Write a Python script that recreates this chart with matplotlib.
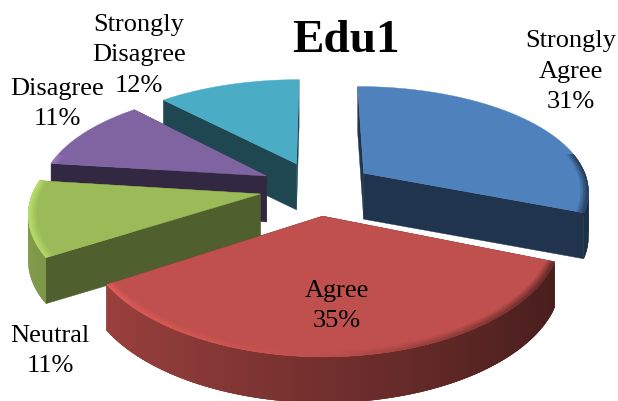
import numpy as np
import matplotlib
matplotlib.use("Agg")
import matplotlib.pyplot as plt
from matplotlib.collections import PolyCollection

# Survey responses for item Edu1, in percent
categories = ["Strongly\nAgree", "Agree", "Neutral", "Disagree", "Strongly\nDisagree"]
shares = [31, 35, 11, 11, 12]
colors = ["#4F81BD", "#C0504D", "#9BBB59", "#8064A2", "#4BACC6"]
radial_shade = [0.41, 0.50, 0.51, 0.40, 0.41]
draw_order = [4, 3, 0, 2, 1]
label_xy = [(571, 72), (337, 306), (50, 351), (57, 104), (139, 55)]

# Projection of the tilted, exploded pie onto the canvas
CX, CY = 317.0, 189.0
RX, RY = 226.0, 106.0
PERSP_X, PERSP_Y = 0.15, 0.17
EXPLODE = 0.255
DEPTH = 46.0


def project(x, y):
    """x to the right, y towards the viewer."""
    return np.column_stack([CX + RX * x / (1.0 - PERSP_X * y),
                            CY + RY * y / (1.0 - PERSP_Y * y)])


def shaded(c, f):
    return tuple(np.clip(np.array(matplotlib.colors.to_rgb(c)) * f, 0, 1))


def rim(a0, a1, mid, radius, n=160):
    t = np.linspace(a0, a1, n)
    ox, oy = EXPLODE * np.sin(mid), -EXPLODE * np.cos(mid)
    return t, ox + radius * np.sin(t), oy - radius * np.cos(t), ox, oy


fig = plt.figure(figsize=(6.18, 4.02), dpi=100)
ax = fig.add_axes([0, 0, 1, 1])
ax.set_xlim(0, 618)
ax.set_ylim(402, 0)
ax.axis("off")

edges = np.concatenate([[0], np.cumsum(shares)]) / np.sum(shares) * 2 * np.pi

for layer, i in enumerate(draw_order):
    a0, a1 = edges[i], edges[i + 1]
    mid = (a0 + a1) / 2
    col = colors[i]
    t, xs, ys, ox, oy = rim(a0, a1, mid, 1.0)
    top = project(xs, ys)
    apex = project(np.array([ox]), np.array([oy]))
    bottom = top + [0, DEPTH]
    n = len(t)

    # Flat cut faces
    for end in (0, n - 1):
        ax.fill([apex[0, 0], top[end, 0], bottom[end, 0], apex[0, 0]],
                [apex[0, 1], top[end, 1], bottom[end, 1], apex[0, 1] + DEPTH],
                color=shaded(col, radial_shade[i]), lw=0.3, zorder=1 + layer * 10)

    # Curved outer wall, lit from the left; strips overlap so no seams show
    polys, fcs = [], []
    for k in range(n - 1):
        nx, ny = np.sin(t[k]), -np.cos(t[k])
        if ny < -0.05:
            continue
        k2 = min(k + 3, n - 1)
        polys.append([top[k], top[k2], bottom[k2], bottom[k]])
        fcs.append(shaded(col, 0.60 - 0.24 * nx))
    if polys:
        ax.add_collection(PolyCollection(polys, facecolors=fcs, edgecolors="none",
                                         zorder=2 + layer * 10))

    # Top surface
    poly = np.vstack([apex, top])
    ax.fill(poly[:, 0], poly[:, 1], color=col, lw=0.3, zorder=3 + layer * 10)

    # Bevelled front rim: catches light on the left, falls into shadow on the right
    radii = np.linspace(0.96, 1.0, 7)
    polys, fcs = [], []
    for r0, r1 in zip(radii[:-1], radii[1:]):
        strength = (r0 - radii[0]) / (radii[-1] - radii[0])
        _, x0, y0, _, _ = rim(a0, a1, mid, r0)
        _, x1, y1, _, _ = rim(a0, a1, mid, r1)
        p0, p1 = project(x0, y0), project(x1, y1)
        for k in range(n - 1):
            nx, ny = np.sin(t[k]), -np.cos(t[k])
            if ny < -0.2:
                continue
            k2 = min(k + 3, n - 1)
            gain = 0.22 if nx < 0 else 0.6
            polys.append([p0[k], p0[k2], p1[k2], p1[k]])
            fcs.append(shaded(col, 1.0 - nx * strength * gain))
    if polys:
        ax.add_collection(PolyCollection(polys, facecolors=fcs, edgecolors="none",
                                         zorder=4 + layer * 10))

# Category labels with their percentages
for name, share, (lx, ly) in zip(categories, shares, label_xy):
    ax.text(lx, ly, f"{name}\n{share}%", ha="center", va="center", color="black",
            family="Liberation Serif", fontsize=19, linespacing=1.5, zorder=100)

ax.text(346, 41, "Edu1", ha="center", va="center", color="black",
        family="Liberation Serif", fontsize=34, fontweight="bold", zorder=100)

fig.savefig("out.png", dpi=100)
